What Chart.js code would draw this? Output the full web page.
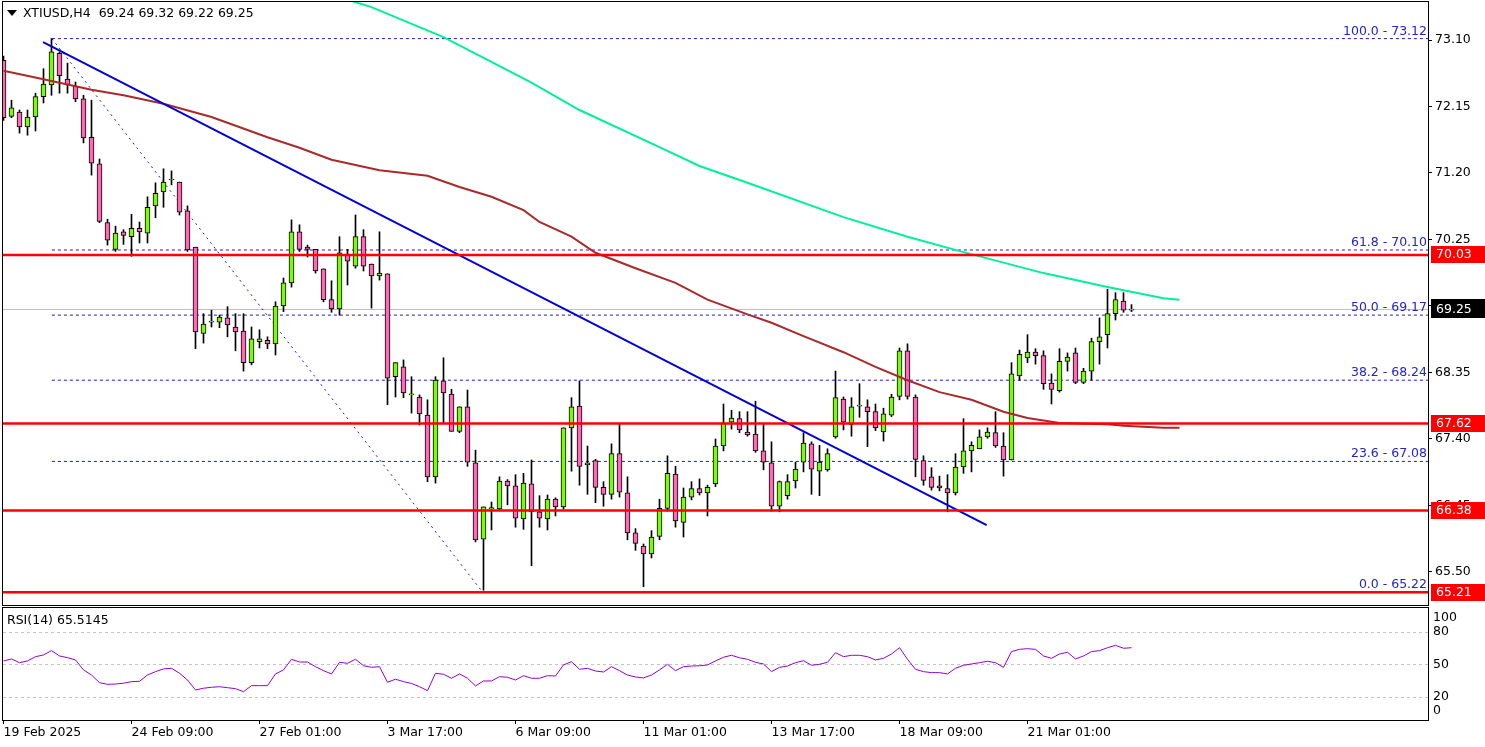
<!DOCTYPE html>
<html>
<head>
<meta charset="utf-8">
<title>XTIUSD H4</title>
<script src="https://cdn.jsdelivr.net/npm/chart.js@4.4.1/dist/chart.umd.min.js"></script>
<style>
  html, body { margin: 0; padding: 0; background: #fff; }
  body { width: 1485px; height: 747px; position: relative; overflow: hidden; }
  canvas { position: absolute; left: 0; }
  #priceChart { top: 0; }
  #rsiChart { top: 606px; }
</style>
</head>
<body>
<canvas id="priceChart" width="1485" height="606"></canvas>
<canvas id="rsiChart" width="1485" height="141"></canvas>
<script>
// H4 candles
const opens = [72.81,72.01,72.07,71.86,72.00,72.29,72.46,72.91,72.54,72.44,
  72.26,71.71,71.33,70.49,70.11,70.36,70.29,70.41,70.34,70.73,
  70.93,71.10,71.07,70.66,70.14,68.91,69.07,69.07,69.13,69.00,
  68.94,68.49,68.79,68.81,68.76,69.30,69.63,70.36,70.14,70.11,
  69.83,69.39,69.26,70.04,69.87,70.29,69.90,69.73,69.76,68.29,
  68.43,68.03,68.00,67.74,66.86,68.23,68.04,67.51,67.86,67.06,
  65.97,66.40,66.40,66.80,66.73,66.26,66.76,66.36,66.26,66.54,
  66.43,67.56,67.87,67.03,67.09,66.71,66.61,67.19,66.63,66.06,
  65.87,65.76,66.01,66.41,66.90,66.21,66.57,66.69,66.63,66.76,
  67.30,67.64,67.69,67.50,67.47,67.23,67.06,66.44,66.59,66.80,
  67.07,67.33,66.94,66.96,67.43,67.97,67.61,67.87,67.86,67.79,
  67.50,67.74,68.01,68.66,68.00,67.09,66.86,66.73,66.69,66.63,
  67.00,67.23,67.26,67.43,67.49,67.30,67.10,68.30,68.56,68.64,
  68.59,68.20,68.09,68.51,68.63,68.21,68.37,68.79,68.89,69.19,
  69.37,69.24];
const highs = [72.87,72.24,72.10,72.10,72.34,72.69,73.12,72.93,72.77,72.50,
  72.31,72.24,71.40,70.54,70.44,70.39,70.61,70.50,70.86,71.06,
  71.26,71.23,71.07,70.73,70.14,69.19,69.24,69.17,69.29,69.19,
  69.19,69.00,68.96,68.86,69.36,69.70,70.53,70.46,70.17,70.11,
  69.83,69.66,70.29,70.11,70.60,70.39,69.90,70.36,69.76,68.49,
  68.53,68.29,68.03,67.96,68.29,68.56,68.11,67.86,68.10,67.24,
  66.43,66.50,66.86,66.82,66.89,66.91,67.10,66.59,66.60,66.56,
  67.56,67.99,68.23,67.30,67.11,66.79,67.33,67.61,66.86,66.12,
  65.90,66.09,66.54,67.16,67.01,66.70,66.79,66.83,66.74,67.40,
  67.90,67.81,67.79,67.79,67.94,67.61,67.36,66.80,66.89,67.07,
  67.49,67.36,67.31,67.26,68.37,68.00,67.99,68.19,67.96,67.90,
  67.84,68.04,68.70,68.76,68.03,67.16,66.99,66.87,66.89,67.19,
  67.69,67.36,67.53,67.56,67.79,67.49,68.49,68.67,68.89,68.69,
  68.66,68.33,68.69,68.63,68.70,68.41,68.84,69.13,69.54,69.49,
  69.49,69.32];
const lows = [71.95,71.99,71.77,71.74,71.80,72.20,72.31,72.34,72.34,72.22,
  71.63,71.17,70.49,70.17,70.08,70.18,70.01,70.20,70.20,70.56,
  70.71,71.03,70.60,70.08,68.69,68.77,69.00,68.99,68.86,68.66,
  68.37,68.46,68.70,68.69,68.60,69.22,69.57,70.08,70.00,69.77,
  69.36,69.21,69.17,69.60,69.84,69.80,69.27,69.67,67.89,68.00,
  67.99,67.77,67.60,66.79,66.77,67.63,67.51,67.49,67.01,65.93,
  65.24,66.10,66.38,66.46,66.14,66.11,65.59,66.14,66.10,66.30,
  66.40,66.94,66.74,66.61,66.49,66.44,66.54,66.57,65.96,65.81,
  65.29,65.70,65.96,66.37,66.14,66.00,66.53,66.60,66.30,66.72,
  67.23,67.54,67.49,67.44,67.21,66.96,66.37,66.36,66.54,66.70,
  66.93,66.61,66.59,66.94,67.41,67.53,67.44,67.71,67.29,67.52,
  67.37,67.72,67.96,67.97,66.86,66.74,66.67,66.66,66.36,66.60,
  66.91,66.93,67.26,67.41,67.28,66.87,67.10,68.24,68.49,68.47,
  68.11,67.90,68.07,68.37,68.19,68.19,68.24,68.47,68.70,69.10,
  69.21,69.22];
const closes = [71.99,72.13,71.86,72.00,72.29,72.47,72.93,72.59,72.46,72.26,
  71.70,71.34,70.51,70.24,70.34,70.31,70.41,70.36,70.71,70.91,
  71.07,71.10,70.64,70.10,68.93,69.04,69.07,69.14,69.03,68.93,
  68.49,68.83,68.83,68.76,69.30,69.63,70.36,70.11,70.11,69.80,
  69.39,69.26,70.06,69.94,70.29,69.87,69.73,69.77,68.27,68.49,
  68.06,68.03,67.76,66.86,68.24,68.06,67.51,67.86,67.07,65.96,
  66.43,66.42,66.80,66.73,66.27,66.77,66.36,66.27,66.54,66.43,
  67.56,67.86,67.01,67.06,66.71,66.61,67.19,66.64,66.06,65.91,
  65.76,66.00,66.41,66.91,66.23,66.57,66.69,66.63,66.71,67.30,
  67.63,67.70,67.53,67.46,67.23,67.07,66.44,66.79,66.79,66.97,
  67.34,66.97,67.07,67.19,67.99,67.64,67.86,67.87,67.79,67.56,
  67.76,68.00,68.66,68.01,67.11,66.81,66.71,66.70,66.63,67.00,
  67.23,67.31,67.43,67.50,67.30,67.10,68.33,68.61,68.64,68.59,
  68.19,68.11,68.51,68.57,68.21,68.37,68.79,68.86,69.19,69.39,
  69.24,69.25];

// RSI(14), one value per candle
const rsiValues = [53.3,55.1,51.7,53.3,57.2,58.8,62.8,57.9,56.3,54.2,
  45.0,40.3,33.2,31.7,32.0,32.7,34.2,34.5,40.3,43.4,
  45.9,46.5,41.9,35.7,26.5,28.1,29.0,29.5,28.6,27.7,
  24.9,30.5,30.5,30.5,41.3,45.0,54.8,52.3,52.3,48.0,
  44.3,41.3,52.0,51.1,54.8,48.9,47.4,48.0,33.6,36.4,
  34.2,32.5,29.5,25.8,41.9,41.0,37.3,41.3,37.3,30.2,
  34.8,34.8,38.8,38.2,35.7,39.7,37.3,37.3,39.7,39.4,
  49.6,52.6,45.6,46.5,44.0,43.1,48.0,44.3,40.3,38.5,
  37.6,40.3,45.0,50.2,44.3,48.0,48.6,48.8,49.6,53.3,
  56.7,58.5,56.2,54.8,52.0,50.5,43.4,47.4,48.6,51.7,
  53.5,49.3,50.2,52.0,60.9,57.2,58.5,58.5,57.2,54.2,
  55.7,59.7,65.5,54.8,45.6,43.4,42.5,42.5,41.3,46.5,
  49.3,50.5,51.7,53.0,51.7,47.4,61.9,64.0,64.6,64.0,
  57.9,55.7,59.7,61.3,55.1,57.9,61.9,62.8,65.5,67.7,
  65.0,65.5];

// moving averages (shifted forward), read at sample bars
const maSlowIdx = [40, 46, 55, 66, 72, 82, 87, 93, 105, 113, 120, 130, 138, 145, 147];
const maSlowValues = [73.78, 73.57, 73.14, 72.49, 72.10, 71.57, 71.30, 71.06, 70.57, 70.29, 70.07, 69.77, 69.57, 69.41, 69.39];
const maFastIdx = [0, 5, 11, 15, 20, 26, 33, 37, 41, 47, 53, 57, 61, 65, 67, 71, 74, 79, 84, 88, 93, 96, 100, 105, 109, 113, 117, 121, 125, 128, 132, 138, 140, 145, 147];
const maFastValues = [72.66, 72.54, 72.39, 72.31, 72.19, 72.00, 71.71, 71.56, 71.39, 71.24, 71.16, 71.00, 70.86, 70.67, 70.50, 70.29, 70.06, 69.84, 69.63, 69.39, 69.18, 69.06, 68.87, 68.64, 68.43, 68.24, 68.07, 67.96, 67.79, 67.70, 67.63, 67.61, 67.59, 67.56, 67.56];

// drawn objects
const trendIdx = [4.95, 122.9];
const trendValues = [73.07, 66.17];
const fibDiagIdx = [6.05, 59.7];
const fibDiagValues = [73.12, 65.24];
const fibStartIdx = 6.05;
const fibPct = ["100.0", "61.8", "50.0", "38.2", "23.6", "0.0"];
const fibLevels = [73.12, 70.10, 69.17, 68.24, 67.08, 65.22];
const redLevels = [70.03, 67.62, 66.38, 65.21];
const lastPrice = 69.25;

const priceTicks = [73.10, 72.15, 71.20, 70.25, 69.30, 68.35, 67.40, 66.45, 65.50];
const timeTickIdx = [0, 16, 32, 48, 64, 80, 96, 112, 128];
const timeLabels = ["19 Feb 2025", "24 Feb 09:00", "27 Feb 01:00", "3 Mar 17:00", "6 Mar 09:00",
  "11 Mar 01:00", "13 Mar 17:00", "18 Mar 09:00", "21 Mar 01:00"];
const rsiLevels = [20, 50, 80];
const rsiAxisLabels = ["100", "80", "50", "20", "0"];
const headerText = "XTIUSD,H4  69.24 69.32 69.22 69.25";
const rsiText = "RSI(14) 65.5145";

// colours / layout
const FONT = '12.5px "DejaVu Sans"';
const BULL = "#7cfc00", BEAR = "#ff69b4";
const X_MIN = -0.0625, X_MAX = X_MIN + 1425 / 8;

Chart.defaults.font.family = "DejaVu Sans";
Chart.defaults.font.size = 12.5;
Chart.defaults.color = "#000";

const bars = opens.map((o, i) => i);
const pts = (xs, ys) => xs.map((x, k) => ({ x: x, y: ys[k] }));
const hLine = (v, from) => [{ x: from, y: v }, { x: X_MAX + 1, y: v }];

function lineSet(data, color, width, order, dash) {
  return {
    type: "line", data: data, borderColor: color, borderWidth: width,
    borderDash: dash || [], pointRadius: 0, tension: 0, fill: false, order: order, clip: 0
  };
}

// no extra room for the end tick labels
function noPad(s) {
  s.paddingTop = 0; s.paddingBottom = 0;
}

// frame round the plot area
const framePlugin = {
  id: "frame",
  afterDraw(chart) {
    const { ctx, chartArea: a } = chart;
    ctx.save();
    ctx.strokeStyle = "#000";
    ctx.lineWidth = 1;
    ctx.strokeRect(a.left - 0.5, a.top - 0.5, a.right - a.left + 1, a.bottom - a.top + 1);
    ctx.restore();
  }
};

const priceOverlay = {
  id: "priceOverlay",
  afterDatasetsDraw(chart) {
    const { ctx, chartArea: a, scales: { y } } = chart;
    ctx.save();
    ctx.font = FONT;
    ctx.fillStyle = "#2323d2";
    ctx.textAlign = "right";
    ctx.textBaseline = "bottom";
    fibLevels.forEach((v, k) => {
      ctx.fillText(fibPct[k] + " - " + v.toFixed(2), a.right - 1, Math.round(y.getPixelForValue(v)) - 1);
    });
    // header
    ctx.fillStyle = "#000";
    ctx.beginPath();
    ctx.moveTo(7, 10); ctx.lineTo(17, 10); ctx.lineTo(12, 16); ctx.closePath();
    ctx.fill();
    ctx.textAlign = "left";
    ctx.textBaseline = "middle";
    ctx.fillText(headerText, 23, 14);
    ctx.restore();
  },
  afterDraw(chart) {
    const { ctx, chartArea: a, scales: { y } } = chart;
    ctx.save();
    ctx.font = FONT;
    ctx.textAlign = "left";
    ctx.textBaseline = "middle";
    const box = (v, bg, up) => {
      const py = y.getPixelForValue(v);
      ctx.fillStyle = bg;
      ctx.fillRect(a.right + 3, Math.round(py - 8.5 - up), 57, 17 + up);
      ctx.fillStyle = "#fff";
      ctx.fillText(v.toFixed(2), a.right + 8, py);
    };
    redLevels.forEach(v => box(v, "#ff0000", 0));
    box(lastPrice, "#000", 2);
    ctx.restore();
  }
};

new Chart(document.getElementById("priceChart"), {
  type: "bar",
  data: {
    datasets: [
      ...redLevels.map(v => lineSet(hLine(v, X_MIN - 1), "#ff0000", 2.5, 2)),
      lineSet(pts(trendIdx, trendValues), "#0000d8", 2, 3),
      lineSet(pts(maFastIdx, maFastValues), "#aa2a2a", 2, 4),
      lineSet(pts(maSlowIdx, maSlowValues), "#00f09a", 2, 4),
      {
        type: "bar", data: bars.map(i => ({ x: i, y: [opens[i], closes[i]] })),
        backgroundColor: bars.map(i => closes[i] >= opens[i] ? BULL : BEAR),
        borderColor: "#000", borderWidth: 1, borderSkipped: false,
        barThickness: 5, minBarLength: 1, grouped: false, order: 5, clip: 0
      },
      {
        type: "bar", data: bars.map(i => ({ x: i, y: [lows[i], highs[i]] })),
        backgroundColor: "#000", borderWidth: 0,
        barThickness: 1, grouped: false, order: 6, clip: 0
      },
      lineSet(pts(fibDiagIdx, fibDiagValues), "#1a1ad0", 1, 7, [2, 4]),
      ...fibLevels.map(v => lineSet(hLine(v, fibStartIdx), "#1a1ad0", 1, 7, [3, 3])),
      lineSet(hLine(lastPrice, X_MIN - 1), "#c0c0c0", 1, 8)
    ]
  },
  options: {
    responsive: false,
    animation: false,
    devicePixelRatio: 1,
    layout: { padding: { left: 3, top: 2, bottom: 1, right: 0 } },
    plugins: { legend: { display: false }, tooltip: { enabled: false } },
    scales: {
      x: { type: "linear", min: X_MIN, max: X_MAX, offset: false, grid: { offset: false }, display: false },
      y: {
        position: "right",
        min: 73.10 - 565 / 70,
        max: 73.10 + 38 / 70,
        beginAtZero: false,
        afterBuildTicks: s => { s.ticks = priceTicks.map(v => ({ value: v })); },
        afterFit: s => { s.width = 57; noPad(s); },
        ticks: { callback: v => Number(v).toFixed(2), padding: 3, color: "#000", autoSkip: false },
        grid: { drawOnChartArea: false, tickLength: 4, tickColor: "#000" },
        border: { display: false }
      }
    }
  },
  plugins: [priceOverlay, framePlugin]
});

const rsiOverlay = {
  id: "rsiOverlay",
  afterDraw(chart) {
    const { ctx, chartArea: a, scales: { y } } = chart;
    ctx.save();
    ctx.font = FONT;
    ctx.fillStyle = "#000";
    ctx.textAlign = "left";
    ctx.textBaseline = "middle";
    ctx.fillText(rsiText, 7, 15);
    const ys = [a.top + 10, y.getPixelForValue(80), y.getPixelForValue(50), y.getPixelForValue(20), a.bottom - 9];
    rsiAxisLabels.forEach((t, k) => ctx.fillText(t, a.right + 5, ys[k]));
    ctx.restore();
  }
};

new Chart(document.getElementById("rsiChart"), {
  type: "line",
  data: {
    datasets: [{
      data: rsiValues.map((v, i) => ({ x: i, y: v })),
      borderColor: "#9400d3", borderWidth: 1, pointRadius: 0, tension: 0, fill: false
    }]
  },
  options: {
    responsive: false,
    animation: false,
    devicePixelRatio: 1,
    layout: { padding: { left: 3, top: 2, bottom: 0, right: 0 } },
    plugins: { legend: { display: false }, tooltip: { enabled: false } },
    scales: {
      x: {
        type: "linear", min: X_MIN, max: X_MAX, offset: false,
        afterBuildTicks: s => { s.ticks = timeTickIdx.map(v => ({ value: v })); },
        afterFit: s => { s.height = 27; },
        ticks: {
          align: "start", autoSkip: false, maxRotation: 0, padding: 1, color: "#000",
          callback: v => timeLabels[timeTickIdx.indexOf(v)]
        },
        grid: { drawOnChartArea: false, tickLength: 4, tickColor: "#000" },
        border: { display: false }
      },
      y: {
        position: "right",
        min: 20 - 23 * 60 / 65,
        max: 80 + 24 * 60 / 65,
        afterBuildTicks: s => { s.ticks = rsiLevels.map(v => ({ value: v })); },
        afterFit: s => { s.width = 57; noPad(s); },
        ticks: { display: false },
        grid: { color: "#c4c4c4", drawTicks: false },
        border: { display: false, dash: [3, 3] }
      }
    }
  },
  plugins: [rsiOverlay, framePlugin]
});
</script>
</body>
</html>
